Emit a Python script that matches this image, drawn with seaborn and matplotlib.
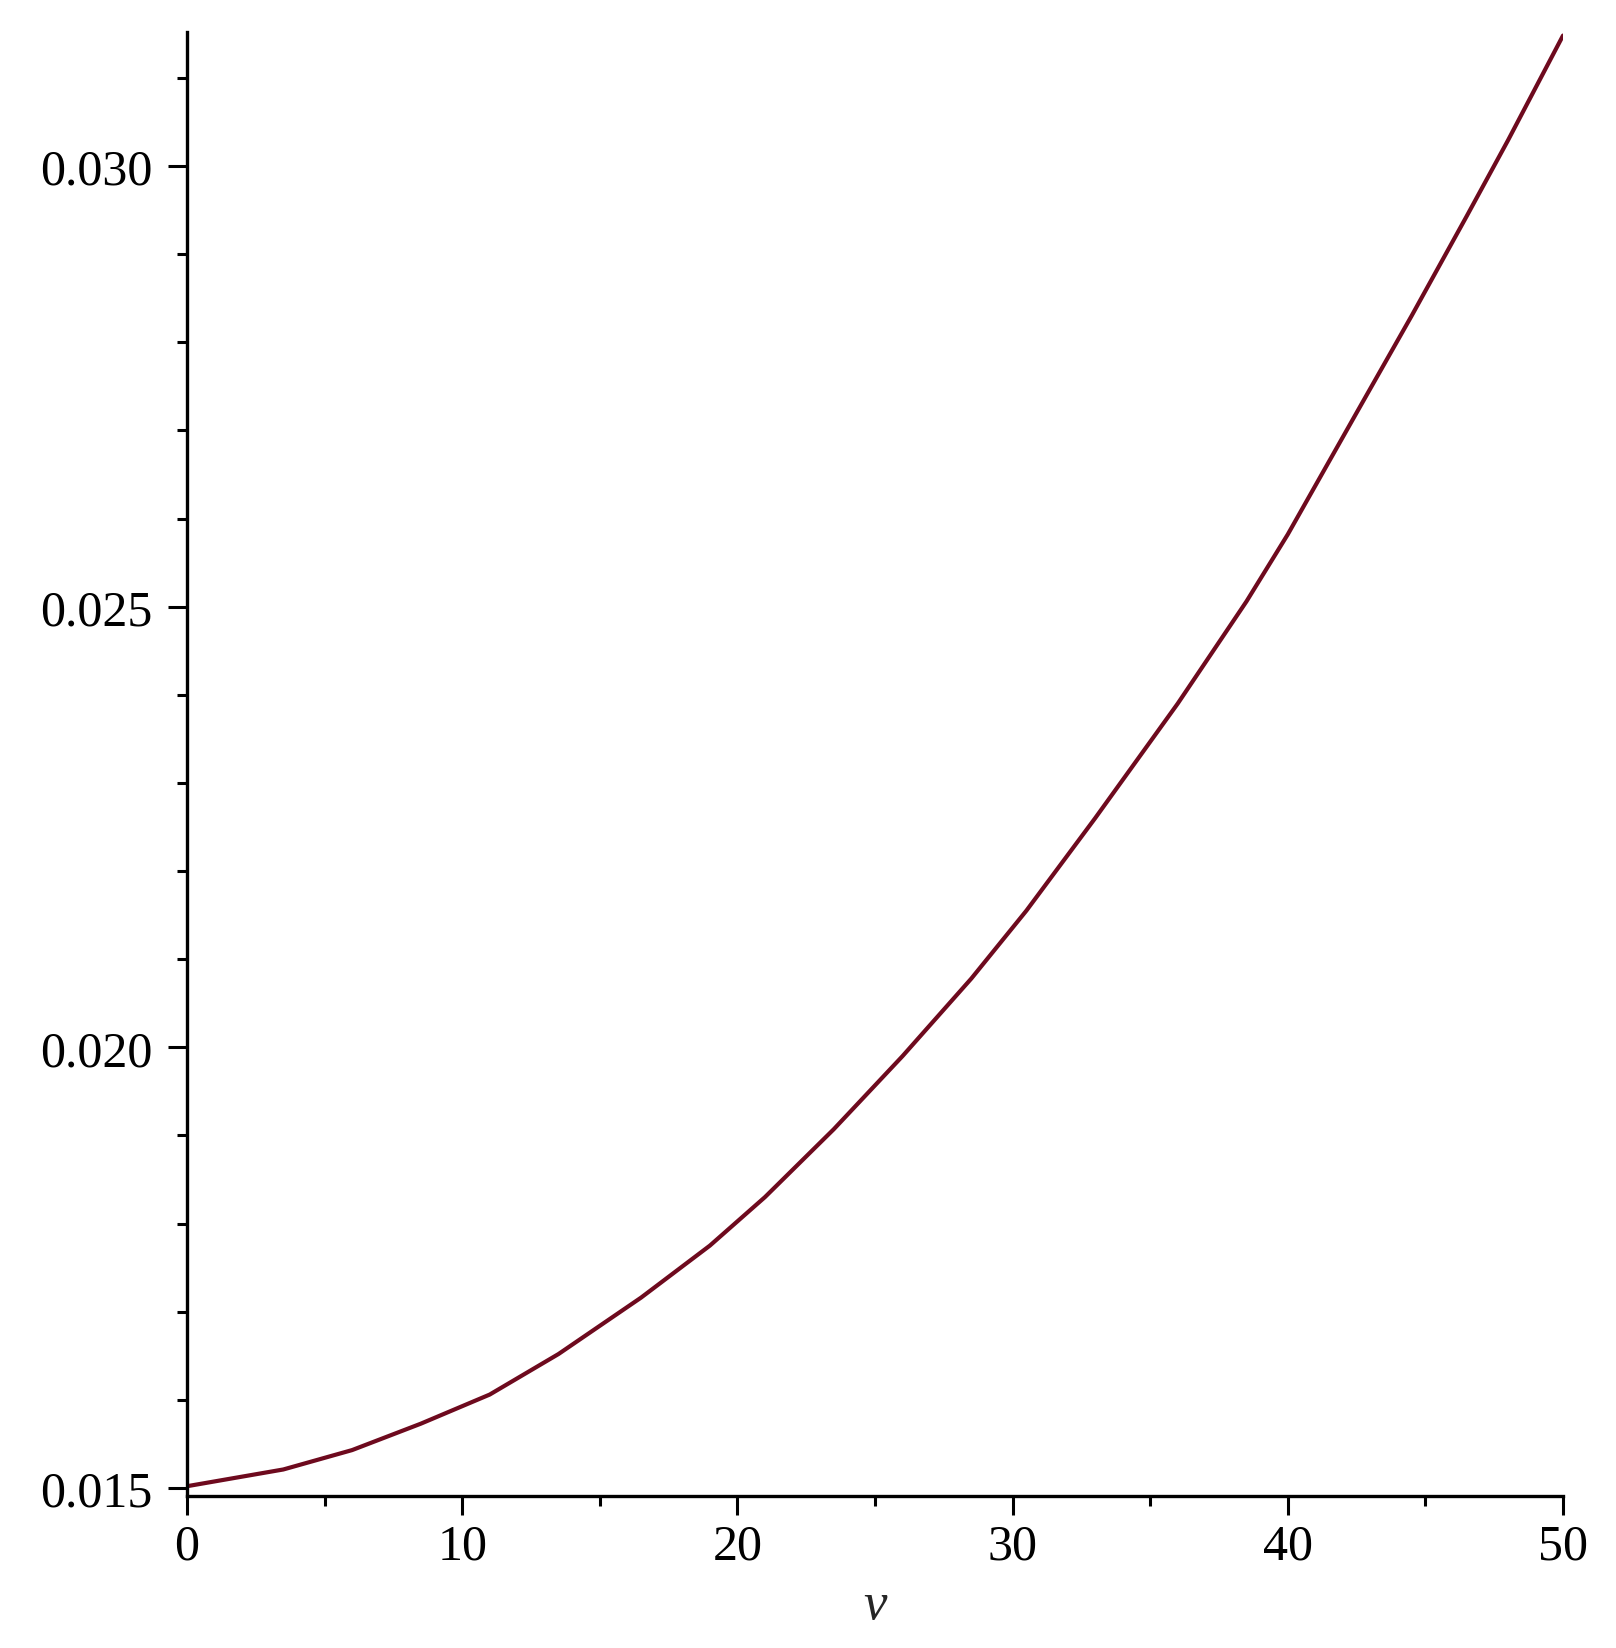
import numpy as np
import pandas as pd
import matplotlib
matplotlib.use('Agg')
import matplotlib.pyplot as plt
import seaborn as sns
from matplotlib.ticker import MultipleLocator, FormatStrFormatter

# values
v_vals = [0, 3.5, 6, 8.5, 11, 13.5, 16.5, 19, 21, 23.5, 26, 28.5, 30.5,
          33, 36, 38.5, 40, 42.5, 44.5, 46.5, 48, 50]
f_vals = [0.01502, 0.01521, 0.01543, 0.01573, 0.01606, 0.01652, 0.01716,
          0.01775, 0.01830, 0.01907, 0.01990, 0.02078, 0.02155, 0.02260,
          0.02390, 0.02506, 0.02582, 0.02720, 0.02830, 0.02943, 0.03029,
          0.03148]
y_major = [0.015, 0.020, 0.025, 0.030]
x_major = [0, 10, 20, 30, 40, 50]

df = pd.DataFrame({'v': v_vals, 'f': f_vals})

sns.set_style('ticks')
plt.rcParams['font.family'] = ['Liberation Serif', 'DejaVu Serif']

fig = plt.figure(figsize=(16.16, 16.49), dpi=100)
ax = fig.add_axes([187 / 1616, 1 - 1497 / 1649, (1563 - 187) / 1616, (1497 - 33) / 1649])

sns.lineplot(data=df, x='v', y='f', ax=ax, color='#6e0a1e', linewidth=3.0)

ax.set_xlim(0, 50)
ax.set_ylim(0.014909, 0.03152)

ax.set_xticks(x_major)
ax.xaxis.set_minor_locator(MultipleLocator(5))
ax.set_yticks(y_major)
ax.yaxis.set_minor_locator(MultipleLocator(0.001))
ax.yaxis.set_major_formatter(FormatStrFormatter('%.3f'))

for side in ['top', 'right']:
    ax.spines[side].set_visible(False)
for side in ['left', 'bottom']:
    ax.spines[side].set_linewidth(2.4)
    ax.spines[side].set_color('black')

ax.tick_params(axis='both', which='major', length=13.5, width=2.2, labelsize=36, colors='black')
ax.tick_params(axis='both', which='minor', length=7, width=2.2, colors='black')
ax.tick_params(axis='y', which='major', pad=11)
ax.tick_params(axis='x', which='major', pad=6)

ax.set_xlabel('v', fontsize=38, fontstyle='italic', labelpad=8)
ax.set_ylabel('')

fig.savefig('out.png', dpi=100)
plt.close(fig)
